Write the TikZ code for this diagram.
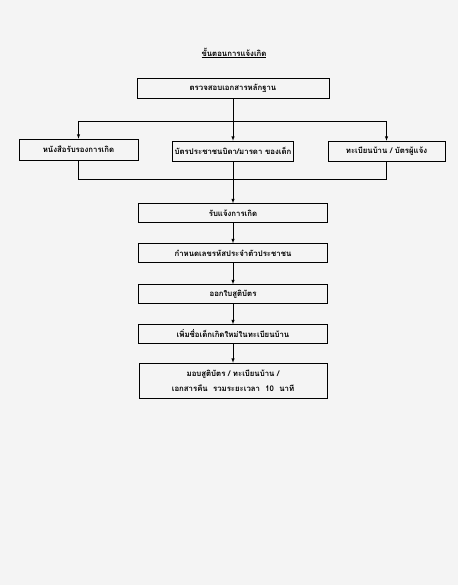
\documentclass[tikz,border=0pt]{standalone}
\usepackage{fontspec}
\newfontfamily\thaifont[Script=Thai]{Loma}
\usetikzlibrary{arrows,positioning}

\begin{document}
\begin{tikzpicture}[x=1pt,y=-1pt,>=latex,line width=0.5pt,
    font=\thaifont\bfseries\fontsize{7.8}{15}\selectfont,
    box/.style={draw,minimum height=20pt,inner sep=1pt}]
\fill[gray!9] (0,0) rectangle (458,585);
\useasboundingbox (0,0) rectangle (458,585);

\node (title) at (234,53) {\underline{ขั้นตอนการแจ้งเกิด}};
\node[box,minimum width=192pt] (check) at (233,88) {ตรวจสอบเอกสารหลักฐาน};

\node[box,minimum width=119pt,minimum height=21pt] (cert) at (78.5,149.5) {หนังสือรับรองการเกิด};
\node[box,minimum width=121pt] (idcard) at (233,151) {บัตรประชาชนบิดา/มารดา ของเด็ก};
\node[box,minimum width=117pt] (house) at (386.5,151) {ทะเบียนบ้าน / บัตรผู้แจ้ง};

\foreach \t/\y [count=\n] in {รับแจ้งการเกิด/213,กำหนดเลขรหัสประจำตัวประชาชน/253,ออกใบสูติบัตร/294,เพิ่มชื่อเด็กเกิดใหม่ในทะเบียนบ้าน/334}
    \node[box,minimum width=189pt,minimum height=19pt] (S\n) at (233,\y) {\t};
\node[box,minimum width=188pt,minimum height=35pt,align=center] (S5) at (233,380.5)
    {มอบสูติบัตร / ทะเบียนบ้าน /\\เอกสารคืน~~รวมระยะเวลา~~10~~นาที};

\coordinate (split) at (0,121);
\coordinate (merge) at (0,179);
\draw[->] (check.south) -- (idcard.north);
\draw (cert.north |- split) -- (house.north |- split);
\draw[->] (cert.north |- split) -- (cert.north);
\draw[->] (house.north |- split) -- (house.north);
\draw (cert.south) -- (cert.south |- merge) -- (house.south |- merge) -- (house.south);
\draw[->] (idcard.south) -- (S1.north);
\foreach \a/\b in {1/2,2/3,3/4,4/5}
    \draw[->] (S\a) -- (S\b);
\end{tikzpicture}
\end{document}
